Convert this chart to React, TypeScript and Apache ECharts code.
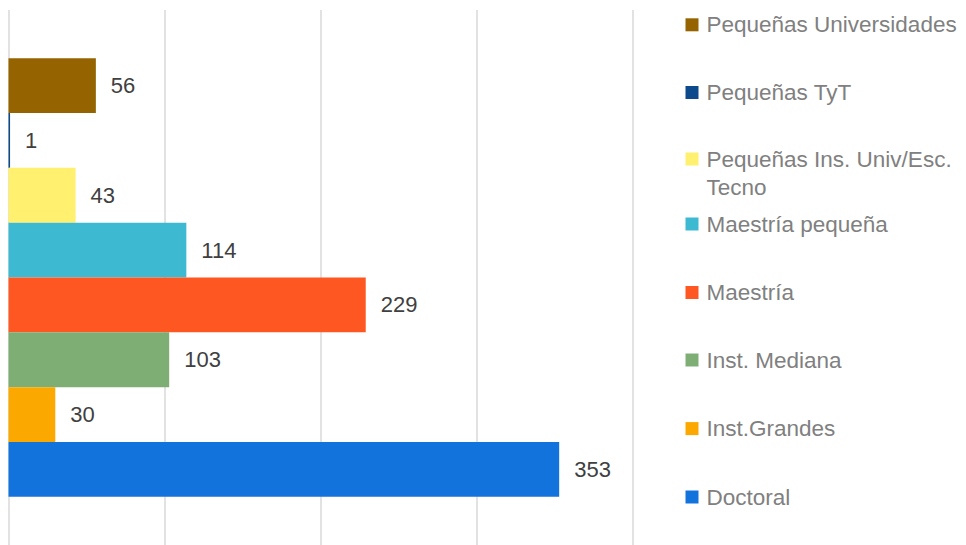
import React, { useEffect, useRef } from "react";
import * as echarts from "echarts";

const categories = ["Total"];
const seriesNames = [
  "Pequeñas Universidades",
  "Pequeñas TyT",
  "Pequeñas Ins. Univ/Esc. Tecno",
  "Maestría pequeña",
  "Maestría",
  "Inst. Mediana",
  "Inst.Grandes",
  "Doctoral",
];
const seriesValues = [56, 1, 43, 114, 229, 103, 30, 353];
const seriesColors = [
  "#956300",
  "#0d4a8c",
  "#fff06f",
  "#3eb9d2",
  "#ff5722",
  "#7fae74",
  "#fba800",
  "#1373dd",
];
const xTicks = [0, 100, 200, 300, 400];
const legendCenters = [24.8, 92.5, 159, 224, 292.5, 360, 428.6, 497];

const FONT = "'Liberation Sans', Arial, sans-serif";

export default function App() {
  const ref = useRef<HTMLDivElement>(null);
  useEffect(() => {
    if (!ref.current) return;
    const chart = echarts.init(ref.current, undefined, { renderer: "svg" });
    const twoLine = "Pequeñas Ins. Univ/Esc. Tecno";
    const legends = seriesNames.map((name, i) => {
      const isTwo = name === twoLine;
      return {
        orient: "vertical",
        left: 685.5,
        top: legendCenters[i] - 14,
        selectedMode: false,
        itemWidth: 13,
        itemHeight: isTwo ? 41 : 13,
        icon: isTwo
          ? "path://M0,0 L13,0 L13,13 L0,13 Z M0,41 L13,41 L13,41 Z"
          : "rect",
        padding: 0,
        data: [name],
        formatter: (n: string) =>
          n === twoLine ? "Pequeñas Ins. Univ/Esc.\nTecno" : n,
        textStyle: {
          fontFamily: FONT,
          fontSize: 22.5,
          lineHeight: 28,
          color: "#808080",
          padding: [0, 0, 0, 3],
        },
      };
    });
    chart.setOption({
      animation: false,
      color: seriesColors,
      grid: { left: 8.5, top: 10, width: 624, height: 539, containLabel: false },
      legend: legends,
      xAxis: {
        type: "value",
        min: xTicks[0],
        max: xTicks[xTicks.length - 1],
        interval: 100,
        axisLabel: { show: false },
        axisLine: { show: false },
        axisTick: { show: false },
        splitLine: { show: true, lineStyle: { color: "#d9d9d9", width: 1.5 } },
      },
      yAxis: {
        type: "category",
        data: categories,
        inverse: true,
        axisLabel: { show: false },
        axisLine: { show: false },
        axisTick: { show: false },
      },
      series: seriesNames.map((name, i) => ({
        type: "bar",
        name,
        data: [seriesValues[i]],
        barGap: "0%",
        barCategoryGap: "18%",
        itemStyle: { color: seriesColors[i] },
        label: {
          show: true,
          position: "right",
          distance: 15,
          fontFamily: FONT,
          fontSize: 22,
          color: "#404040",
        },
      })),
    });
    return () => chart.dispose();
  }, []);
  return <div ref={ref} style={{ width: 966, height: 545, position: "absolute", left: 0, top: 0 }} />;
}
